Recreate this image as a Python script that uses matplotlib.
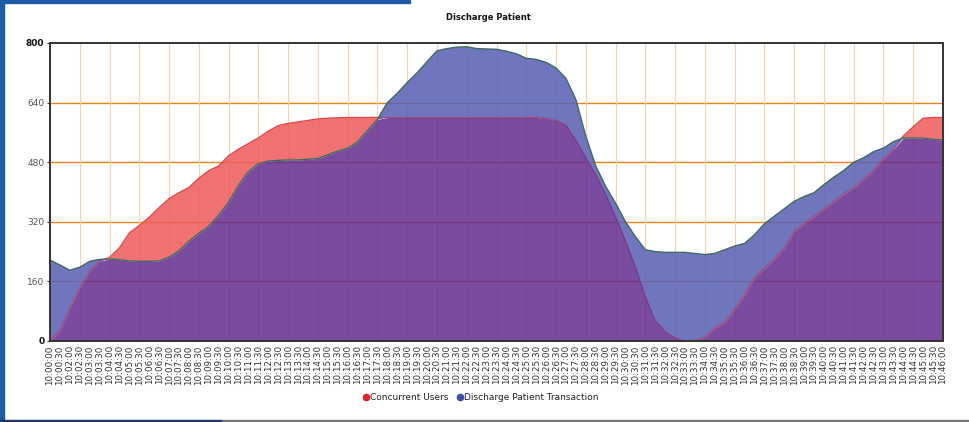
import numpy as np
import matplotlib
matplotlib.use("Agg")
import matplotlib.pyplot as plt
from matplotlib.lines import Line2D
from matplotlib.patches import Rectangle

# ---------------- data ----------------
time_labels = ["10:00:00", "10:00:30"] + [
    f"10:{m:02d}:{s:02d}" for m in range(2, 47) for s in (0, 30) if not (m == 46 and s == 30)
]

concurrent_users = [
    0, 28, 90, 143, 188, 215, 224, 250, 290, 310,
    332, 358, 382, 398, 412, 437, 457, 470, 497, 515,
    530, 545, 563, 578, 584, 588, 592, 596, 598, 599,
    600, 600, 600, 600, 600, 600, 600, 600, 600, 600,
    600, 600, 600, 600, 600, 600, 600, 600, 600, 600,
    597, 592, 580, 540, 493, 448, 395, 335, 270, 200,
    120, 55, 25, 8, 0, 2, 10, 35, 50, 85,
    125, 170, 195, 220, 250, 295, 315, 335, 355, 375,
    395, 411, 435, 459, 490, 515, 550, 575, 598, 600,
    600,
]

discharge_tx = [
    217, 204, 190, 198, 214, 219, 220, 218, 215, 214,
    214, 215, 225, 242, 268, 289, 308, 338, 373, 418,
    455, 476, 483, 485, 486, 486, 488, 490, 500, 510,
    517, 535, 565, 595, 640, 665, 694, 720, 750, 779,
    785, 789, 790, 785, 784, 783, 778, 771, 759, 756,
    748, 733, 705, 648, 550, 470, 415, 370, 320, 280,
    245, 240, 238, 238, 238, 235, 232, 235, 245, 255,
    262, 285, 315, 335, 355, 375, 388, 398, 420, 440,
    458, 480, 492, 508, 518, 535, 545, 545, 545, 541,
    540,
]

y_ticks = [0, 160, 320, 480, 640, 800]
series_names = ["Concurrent Users", "Discharge Patient Transaction"]

# ---------------- figure ----------------
W, H = 969, 422
fig = plt.figure(figsize=(W / 100, H / 100), dpi=100)
fig.patch.set_facecolor("white")

L, R, T, B = 50, 943, 43, 341
ax = fig.add_axes([L / W, 1 - B / H, (R - L) / W, (B - T) / H])

x = np.arange(len(time_labels))
red = np.array(concurrent_users, dtype=float)
blue = np.array(discharge_tx, dtype=float)
low = np.minimum(red, blue)

# gridlines (behind translucent fills)
for v in y_ticks[1:-1]:
    ax.axhline(v, color="#e8841c", lw=1.0, zorder=1)
for i in range(0, len(x), 3):
    ax.axvline(i, color="#f6d2a6", lw=0.8, zorder=1)

alpha = 0.86
def pre(c):
    c = np.array(c) / 255.0
    return tuple(np.clip((c - (1 - alpha)) / alpha, 0, 1))

col_purple = pre((122, 74, 158))
col_red = pre((240, 114, 114))
col_blue = pre((112, 118, 190))

ax.fill_between(x, 0, low, color=col_purple, alpha=alpha, lw=0, zorder=2)
ax.fill_between(x, low, red, where=red >= blue, interpolate=True,
                color=col_red, alpha=alpha, lw=0, zorder=2)
ax.fill_between(x, low, blue, where=blue >= red, interpolate=True,
                color=col_blue, alpha=alpha, lw=0, zorder=2)

ax.plot(x, red, color="#e23a3a", lw=1.0, zorder=1.5)
ax.plot(x, blue, color="#3e6b60", lw=1.0, zorder=3)

ax.set_xlim(0, len(x) - 1)
ax.set_ylim(0, 800)

ax.set_xticks(x)
ax.set_xticklabels(time_labels, rotation=90, fontsize=6.3, color="#333333")
ax.tick_params(axis="x", length=0, pad=3)
ax.set_yticks(y_ticks)
ax.set_yticklabels([str(v) for v in y_ticks], fontsize=6.5, color="#555555")
ax.tick_params(axis="y", length=2, pad=2, color="#333333")
for lbl in ax.get_yticklabels():
    if lbl.get_text() in ("0", "800"):
        lbl.set_fontweight("bold")
        lbl.set_color("#111111")

for s in ax.spines.values():
    s.set_color("#333333")
    s.set_linewidth(1.4)
    s.set_zorder(4)

# title
fig.text(488 / W, 1 - 17 / H, "Discharge Patient", ha="center", va="center",
         fontsize=6, fontweight="bold", color="#111111")

# legend
handles = [
    Line2D([], [], marker="o", ls="none", color="#e8202a", markersize=4.5),
    Line2D([], [], marker="o", ls="none", color="#3a4fa8", markersize=4.5),
]
fig.legend(handles, series_names, loc="center", bbox_to_anchor=(481 / W, 1 - 398 / H),
           ncol=2, frameon=False, fontsize=6.5, handlelength=0.6, handletextpad=0.2,
           columnspacing=0.9, borderaxespad=0, labelcolor="#222222")

# frame decorations
fig.patches.append(Rectangle((0, 0), 4 / W, 1, transform=fig.transFigure,
                             color="#1f5aa6", zorder=10))
fig.patches.append(Rectangle((0, 1 - 3 / H), 410 / W, 3 / H, transform=fig.transFigure,
                             color="#1f5aa6", zorder=10))
fig.patches.append(Rectangle((0, 0), 222 / W, 2 / H, transform=fig.transFigure,
                             color="#1c3470", zorder=10))
fig.patches.append(Rectangle((222 / W, 0), 1 - 222 / W, 2 / H, transform=fig.transFigure,
                             color="#777777", zorder=10))

fig.savefig("out.png", dpi=100)
